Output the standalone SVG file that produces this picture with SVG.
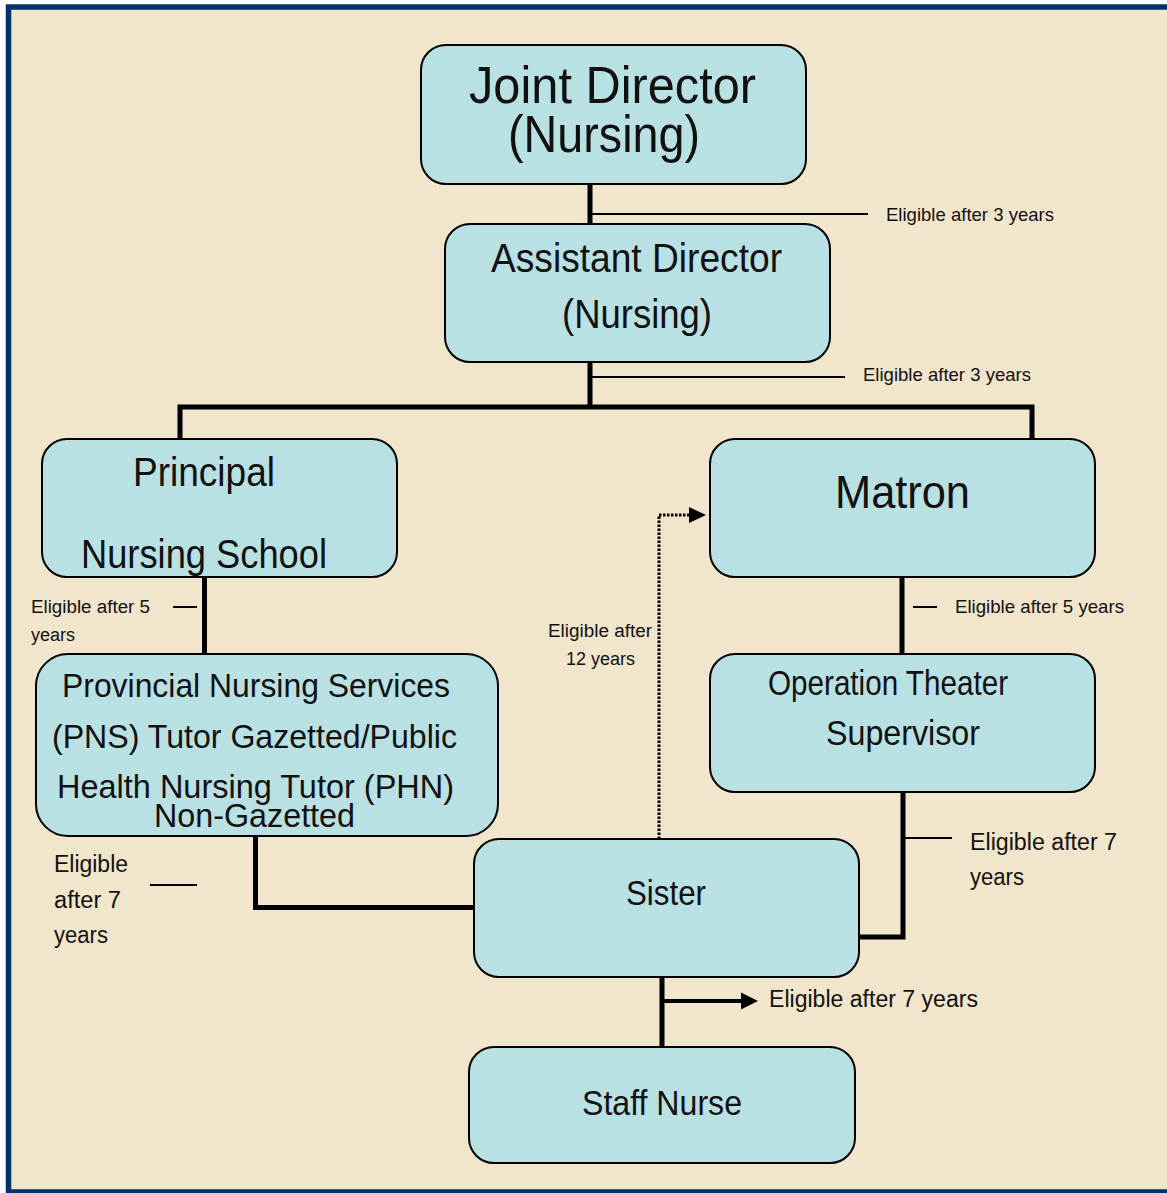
<svg xmlns="http://www.w3.org/2000/svg" width="1167" height="1193" viewBox="0 0 1167 1193">
<style>
.node{fill:#B9E0E3;stroke:#000;stroke-width:2}
.t{font-family:"Liberation Sans",Arial,sans-serif;fill:#111}
.thick{stroke:#000;stroke-width:5;fill:none}
.thin{stroke:#000;stroke-width:2;fill:none}
.dot{stroke:#000;stroke-width:3;fill:none;stroke-dasharray:2.5 1.5}
</style>
<defs>
<marker id="ah" viewBox="0 0 10 10" refX="10" refY="5" markerWidth="16" markerHeight="17" markerUnits="userSpaceOnUse" orient="auto">
<path d="M0,0 L10,5 L0,10 z" fill="#000"/>
</marker>
</defs>
<rect x="0" y="0" width="1167" height="1193" fill="#fff"/>
<rect x="8.5" y="7" width="1170" height="1185" fill="#F1E5CC" stroke="#003366" stroke-width="5.5"/>

<g id="connectors">
<line class="thick" x1="590" y1="184" x2="590" y2="224"/>
<line class="thin" x1="590" y1="214" x2="868" y2="214"/>
<line class="thick" x1="590" y1="362" x2="590" y2="407"/>
<line class="thin" x1="590" y1="377" x2="845" y2="377"/>
<polyline class="thick" points="180,439 180,407 1032,407 1032,439"/>
<line class="thick" x1="204.5" y1="577" x2="204.5" y2="654"/>
<line class="thin" x1="173" y1="607" x2="197" y2="607"/>
<line class="thick" x1="902" y1="577" x2="902" y2="654"/>
<line class="thin" x1="913" y1="607" x2="937" y2="607"/>
<polyline class="dot" points="659,839 659,515 690,515"/>
<path d="M689,507 L706,515 L689,523 z" fill="#000"/>
<polyline class="thick" points="255.5,836 255.5,907.5 474,907.5"/>
<line class="thin" x1="150" y1="885" x2="197" y2="885"/>
<polyline class="thick" points="903,792 903,937 859,937"/>
<line class="thin" x1="903" y1="838" x2="952" y2="838"/>
<line class="thick" x1="662" y1="977" x2="662" y2="1047"/>
<line stroke="#000" stroke-width="4" x1="662" y1="1001" x2="744" y2="1001"/>
<path d="M741,992.5 L758,1001 L741,1009.5 z" fill="#000"/>
</g>

<g id="labels">
<text class="t" font-size="19" x="886" y="221" textLength="168" lengthAdjust="spacingAndGlyphs">Eligible after 3 years</text>
<text class="t" font-size="19" x="863" y="381" textLength="168" lengthAdjust="spacingAndGlyphs">Eligible after 3 years</text>
<text class="t" font-size="18" x="31" y="613" textLength="119" lengthAdjust="spacingAndGlyphs">Eligible after 5</text>
<text class="t" font-size="18" x="31" y="641" textLength="44" lengthAdjust="spacingAndGlyphs">years</text>
<text class="t" font-size="19" x="955" y="613" textLength="169" lengthAdjust="spacingAndGlyphs">Eligible after 5 years</text>
<text class="t" font-size="18" x="548" y="637" textLength="104" lengthAdjust="spacingAndGlyphs">Eligible after</text>
<text class="t" font-size="18" x="566" y="665" textLength="69" lengthAdjust="spacingAndGlyphs">12 years</text>
<text class="t" font-size="23" x="54" y="872" textLength="74" lengthAdjust="spacingAndGlyphs">Eligible</text>
<text class="t" font-size="23" x="54" y="908" textLength="67" lengthAdjust="spacingAndGlyphs">after 7</text>
<text class="t" font-size="23" x="54" y="943" textLength="54" lengthAdjust="spacingAndGlyphs">years</text>
<text class="t" font-size="23" x="970" y="850" textLength="147" lengthAdjust="spacingAndGlyphs">Eligible after 7</text>
<text class="t" font-size="23" x="970" y="885" textLength="54" lengthAdjust="spacingAndGlyphs">years</text>
<text class="t" font-size="23" x="769" y="1007" textLength="209" lengthAdjust="spacingAndGlyphs">Eligible after 7 years</text>
</g>

<g id="joint-director">
<rect class="node" x="421" y="45" width="385" height="139" rx="25"/>
<text class="t" font-size="52" x="469" y="103" textLength="287" lengthAdjust="spacingAndGlyphs">Joint Director</text>
<text class="t" font-size="52" x="508" y="152" textLength="192" lengthAdjust="spacingAndGlyphs">(Nursing)</text>
</g>
<g id="assistant-director">
<rect class="node" x="445" y="224" width="385" height="138" rx="25"/>
<text class="t" font-size="40" x="491" y="272" textLength="291" lengthAdjust="spacingAndGlyphs">Assistant Director</text>
<text class="t" font-size="40" x="562" y="328" textLength="150" lengthAdjust="spacingAndGlyphs">(Nursing)</text>
</g>
<g id="principal">
<rect class="node" x="42" y="439" width="355" height="138" rx="25"/>
<text class="t" font-size="40" x="133" y="486" textLength="142" lengthAdjust="spacingAndGlyphs">Principal</text>
<text class="t" font-size="40" x="81" y="568" textLength="246" lengthAdjust="spacingAndGlyphs">Nursing School</text>
</g>
<g id="matron">
<rect class="node" x="710" y="439" width="385" height="138" rx="25"/>
<text class="t" font-size="46" x="835" y="508" textLength="135" lengthAdjust="spacingAndGlyphs">Matron</text>
</g>
<g id="pns-tutor">
<rect class="node" x="36" y="654" width="462" height="182" rx="32"/>
<text class="t" font-size="34" x="62" y="697" textLength="388" lengthAdjust="spacingAndGlyphs">Provincial Nursing Services</text>
<text class="t" font-size="34" x="52" y="748" textLength="405" lengthAdjust="spacingAndGlyphs">(PNS) Tutor Gazetted/Public</text>
<text class="t" font-size="34" x="57" y="798" textLength="397" lengthAdjust="spacingAndGlyphs">Health Nursing Tutor (PHN)</text>
<text class="t" font-size="34" x="154" y="827" textLength="201" lengthAdjust="spacingAndGlyphs">Non-Gazetted</text>
</g>
<g id="ot-supervisor">
<rect class="node" x="710" y="654" width="385" height="138" rx="25"/>
<text class="t" font-size="35" x="768" y="695" textLength="240" lengthAdjust="spacingAndGlyphs">Operation Theater</text>
<text class="t" font-size="35" x="826" y="745" textLength="154" lengthAdjust="spacingAndGlyphs">Supervisor</text>
</g>
<g id="sister">
<rect class="node" x="474" y="839" width="385" height="138" rx="25"/>
<text class="t" font-size="35" x="626" y="905" textLength="80" lengthAdjust="spacingAndGlyphs">Sister</text>
</g>
<g id="staff-nurse">
<rect class="node" x="469" y="1047" width="386" height="116" rx="25"/>
<text class="t" font-size="35" x="582" y="1115" textLength="160" lengthAdjust="spacingAndGlyphs">Staff Nurse</text>
</g>
</svg>
